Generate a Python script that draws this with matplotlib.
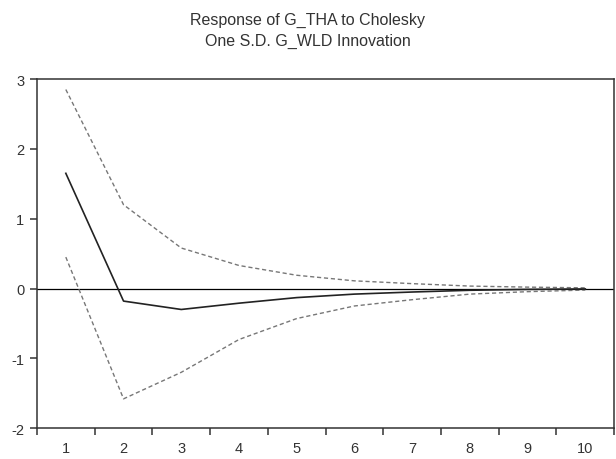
import matplotlib
matplotlib.use("Agg")
import matplotlib.pyplot as plt
import numpy as np

periods = [1, 2, 3, 4, 5, 6, 7, 8, 9, 10]
response = [1.65, -0.18, -0.30, -0.21, -0.13, -0.08, -0.05, -0.025, -0.012, -0.006]
upper = [2.85, 1.20, 0.58, 0.33, 0.19, 0.11, 0.07, 0.035, 0.02, 0.01]
lower = [0.45, -1.58, -1.20, -0.73, -0.43, -0.25, -0.16, -0.08, -0.045, -0.022]
y_ticks = [-2, -1, 0, 1, 2, 3]
title = "Response of G_THA to Cholesky\nOne S.D. G_WLD Innovation"

plt.rcParams['font.family'] = ['Liberation Sans', 'DejaVu Sans']

fig = plt.figure(figsize=(6.16, 4.6), dpi=100)
ax = fig.add_axes([0.060, 0.067, 0.937, 0.759])

text_col = "#333333"
ax.axhline(0, color="black", lw=0.9, zorder=1)
ax.plot(periods, upper, color="#777777", lw=1.0, linestyle=(0, (3, 2)))
ax.plot(periods, lower, color="#777777", lw=1.0, linestyle=(0, (3, 2)))
ax.plot(periods, response, color="#222222", lw=1.2)

ax.set_xlim(0.5, 10.5)
ax.set_ylim(-2, 3)
ax.set_yticks(y_ticks)
ax.set_yticklabels([str(v) for v in y_ticks])
ax.set_xticks(periods)
ax.set_xticklabels([str(p) for p in periods])
ax.set_xticks(np.arange(0.5, 11, 1), minor=True)
ax.tick_params(axis="x", which="major", length=0, pad=9, labelsize=10.5, colors=text_col)
ax.tick_params(axis="x", which="minor", length=5, direction="out", width=1.1, color="#333333")
ax.tick_params(axis="y", length=5, direction="out", width=1.1, pad=4, labelsize=10.5,
               colors=text_col)
for side in ["left", "bottom", "top", "right"]:
    ax.spines[side].set_linewidth(1.1)
    ax.spines[side].set_color("#333333")

fig.text(0.5, 0.973, title, ha="center", va="top", fontsize=11.5, color=text_col,
         linespacing=1.55)

fig.savefig("out.png", dpi=100)
